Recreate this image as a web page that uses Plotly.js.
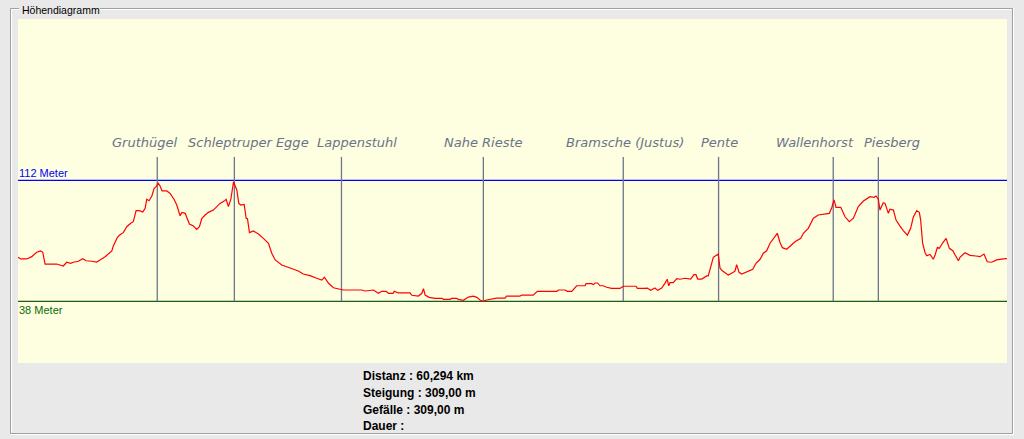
<!DOCTYPE html>
<html>
<head>
<meta charset="utf-8">
<script src="https://cdn.plot.ly/plotly-3.0.1.min.js"></script>
<style>
  html, body { margin: 0; padding: 0; background: #e9e9e9; }
  #chart { width: 1024px; height: 439px; }
</style>
</head>
<body>
<div id="chart"></div>
<script>
// ---- data ----
const distKm = [0,0.18,0.53,0.84,1.14,1.38,1.51,1.65,2.36,2.76,2.97,3.21,3.37,3.68,3.95,4.15,4.50,4.80,5.00,5.31,5.72,5.81,6.06,6.22,6.42,6.63,6.87,7.03,7.20,7.40,7.61,7.75,7.85,7.99,8.16,8.30,8.42,8.54,8.66,8.78,9.07,9.27,9.51,9.68,9.88,9.99,10.19,10.45,10.69,10.90,11.06,11.21,11.41,11.61,11.91,12.32,12.57,12.69,12.83,12.98,13.14,13.24,13.34,13.46,13.58,13.79,13.91,13.99,14.11,14.35,14.66,14.96,15.27,15.47,15.68,16.08,16.58,17.09,17.39,17.80,18.21,18.52,18.68,18.93,19.23,19.64,19.84,20.96,21.16,21.67,21.97,22.18,22.44,22.59,22.86,22.94,23.20,23.90,24.01,24.41,24.62,24.72,24.82,25.06,25.43,25.85,25.93,26.34,26.44,26.75,26.85,27.15,27.46,27.76,27.97,28.17,28.33,28.57,28.88,29.18,29.69,29.79,30.60,30.71,31.41,31.66,32.84,32.94,33.35,33.49,33.76,34.06,34.57,34.63,34.97,35.07,35.18,35.34,35.48,35.68,35.89,36.19,36.70,36.90,37.68,37.76,38.16,38.36,38.57,38.73,38.83,39.00,39.24,39.44,39.58,39.67,39.75,39.95,40.16,40.36,40.66,41.01,41.21,41.33,41.44,41.68,41.99,42.08,42.23,42.39,42.60,42.69,42.80,42.96,43.21,43.30,43.61,43.71,43.81,43.96,44.12,44.32,44.62,44.79,44.99,45.24,45.44,45.64,45.85,46.05,46.29,46.45,46.60,46.86,47.06,47.37,47.72,47.88,48.18,48.49,48.79,49.10,49.46,49.61,49.75,49.87,50.16,50.42,50.68,50.93,51.23,51.54,51.94,52.19,52.31,52.45,52.55,52.75,52.86,53.06,53.16,53.37,53.53,53.77,53.97,54.22,54.42,54.58,54.79,54.95,55.03,55.15,55.30,55.40,55.60,55.80,55.91,56.05,56.17,56.38,56.58,56.78,56.99,57.33,57.43,57.73,58.04,58.40,58.65,58.89,59.09,59.36,59.66,60.19,60.29];
const elevM = [64.9,63.9,63.9,65.3,68.0,68.8,68.0,60.8,60.8,59.6,61.9,61.2,61.9,62.5,64.1,62.8,62.5,62.0,63.3,65.3,68.8,71.8,77.1,78.7,80.0,83.6,85.7,86.7,93.4,93.4,92.6,94.9,100.4,99.5,102.4,107.1,108.1,110.3,108.5,105.5,105.5,104.0,100.4,96.9,90.3,92.4,91.8,85.3,84.0,82.0,83.6,88.8,90.8,92.4,93.8,97.9,99.3,100.4,95.9,100.6,111.1,109.1,106.1,97.9,96.9,97.3,88.8,88.5,80.0,81.0,79.2,76.5,73.5,67.4,63.3,60.2,58.2,56.5,54.7,53.7,52.1,51.0,52.7,49.0,46.3,45.5,44.9,44.9,44.3,44.9,42.9,44.1,44.1,42.9,42.9,44.1,43.1,43.1,41.7,41.2,42.9,45.7,41.8,40.4,39.8,39.8,39.2,39.2,39.8,39.8,39.2,38.6,40.6,41.2,40.4,38.8,38.0,38.8,39.4,40.0,40.0,41.2,41.2,41.8,41.8,44.1,44.1,44.9,44.9,44.1,44.1,47.5,47.5,48.8,48.8,48.2,49.2,49.2,47.5,47.5,46.6,45.9,45.9,47.2,47.2,45.9,45.9,46.1,44.7,45.5,46.1,44.7,46.1,49.0,51.5,47.5,49.4,49.4,51.9,51.5,52.1,51.6,54.3,54.3,51.6,51.6,53.5,53.5,59.6,64.9,66.3,66.9,58.2,56.5,54.7,54.1,55.7,56.5,60.4,55.7,54.7,55.7,57.1,57.6,61.2,63.7,67.4,68.9,73.5,76.3,79.6,74.1,70.8,69.8,71.4,74.4,76.5,79.6,82.6,88.8,90.8,91.4,91.8,95.2,100.0,95.5,95.5,89.7,86.7,88.8,95.9,99.3,102.0,101.6,102.4,100.4,93.8,98.3,97.9,91.8,94.3,93.8,87.7,84.0,81.2,78.5,82.6,89.4,93.4,92.4,87.7,73.5,67.7,65.9,66.7,63.7,66.3,71.0,70.4,73.8,76.5,70.4,68.9,62.8,64.9,67.7,66.1,65.7,65.3,66.9,62.2,61.9,63.3,64.1,64.1];

const waypointNames = ['Gruthügel','Schleptruper Egge','Lappenstuhl','Nahe Rieste','Bramsche (Justus)','Pente','Wallenhorst','Piesberg'];
const waypointKm = [8.49, 13.19, 19.72, 28.37, 36.90, 42.71, 49.70, 52.45];

const refLevels = [112, 38];
const refLabels = ['112 Meter', '38 Meter'];

const totalKm = 60.294;
const panelTitle = 'Höhendiagramm';
const statLines = ['Distanz : 60,294 km', 'Steigung : 309,00 m', 'Gefälle : 309,00 m', 'Dauer :'];

// ---- layout / style (not data) ----
const W = 1024, H = 439;
const L = 18, R = 1007, T = 19, B = 363;
const px = x => (x - L) / (R - L);
const py = y => (B - y) / (B - T);
const labelShift = [-13, 14.5, 15.5, 0, 2, 0.5, -18.6, 13.4];
const refColors = ['#0000ff', '#1b5e1b'];
const refTextColors = ['#0000ff', '#0b6a0b'];
const refYShift = [7.5, -8.7];
const wpTop = 126.3;       // elevation where waypoint markers end (top)
const frameGray = '#a0a0a0', frameWhite = '#ffffff';

const shapes = [];
refLevels.forEach((v, i) => shapes.push({
  type: 'line', xref: 'paper', yref: 'y', x0: 0, x1: 1, y0: v, y1: v,
  line: { color: refColors[i], width: 1.2 }, layer: 'below'
}));
waypointKm.forEach(k => shapes.push({
  type: 'line', xref: 'x', yref: 'y', x0: k, x1: k, y0: refLevels[1], y1: wpTop,
  line: { color: '#6c758a', width: 1.3 }, layer: 'below'
}));
function seg(x0, y0, x1, y1, c) {
  shapes.push({ type: 'line', xref: 'paper', yref: 'paper',
    x0: px(x0), y0: py(y0), x1: px(x1), y1: py(y1), line: { color: c, width: 1 } });
}
seg(10.5, 8.5, 10.5, 433.5, frameGray);
seg(11.5, 9.5, 11.5, 432.5, frameWhite);
seg(10.5, 8.5, 19, 8.5, frameGray);
seg(11.5, 9.5, 19, 9.5, frameWhite);
seg(100, 8.5, 1012.5, 8.5, frameGray);
seg(100, 9.5, 1011.5, 9.5, frameWhite);
seg(1012.5, 8.5, 1012.5, 433.5, frameGray);
seg(1013.5, 8.5, 1013.5, 434.5, frameWhite);
seg(10.5, 433.5, 1012.5, 433.5, frameGray);
seg(10.5, 434.5, 1013.5, 434.5, frameWhite);

const annotations = [];
waypointNames.forEach((n, i) => annotations.push({
  x: waypointKm[i], y: wpTop, xref: 'x', yref: 'y', text: n,
  showarrow: false, xanchor: 'center', yanchor: 'middle',
  xshift: labelShift[i], yshift: 14,
  font: { family: 'DejaVu Sans', size: 13, color: '#6a7388', style: 'italic' }
}));
refLevels.forEach((v, i) => annotations.push({
  x: 0, y: v, xref: 'paper', yref: 'y', text: refLabels[i],
  showarrow: false, xanchor: 'left', yanchor: 'middle', xshift: -1, yshift: refYShift[i],
  font: { family: 'Liberation Sans', size: 11, color: refTextColors[i] }
}));
annotations.push({
  x: px(19.5), y: py(10), xref: 'paper', yref: 'paper', text: panelTitle,
  showarrow: false, xanchor: 'left', yanchor: 'middle',
  font: { family: 'Liberation Sans', size: 10.5, color: '#000000' }
});
const statY = [376.3, 393, 409.7, 426.4];
statLines.forEach((s, i) => annotations.push({
  x: px(361), y: py(statY[i]), xref: 'paper', yref: 'paper', text: '<b>' + s + '</b>',
  showarrow: false, xanchor: 'left', yanchor: 'middle',
  font: { family: 'Liberation Sans', size: 12, color: '#000000' }
}));

const trace = {
  x: distKm, y: elevM, type: 'scatter', mode: 'lines',
  line: { color: '#ff0000', width: 1.2 }, hoverinfo: 'skip'
};

const layout = {
  width: W, height: H,
  margin: { l: L, r: W - R, t: T, b: H - B, pad: 0 },
  paper_bgcolor: '#e9e9e9',
  plot_bgcolor: '#fefee0',
  showlegend: false,
  xaxis: { range: [0, totalKm], visible: false, fixedrange: true },
  yaxis: { range: [0.27, 210.65], visible: false, fixedrange: true },
  shapes: shapes,
  annotations: annotations
};

Plotly.newPlot('chart', [trace], layout, { displayModeBar: false, staticPlot: true });
</script>
</body>
</html>
